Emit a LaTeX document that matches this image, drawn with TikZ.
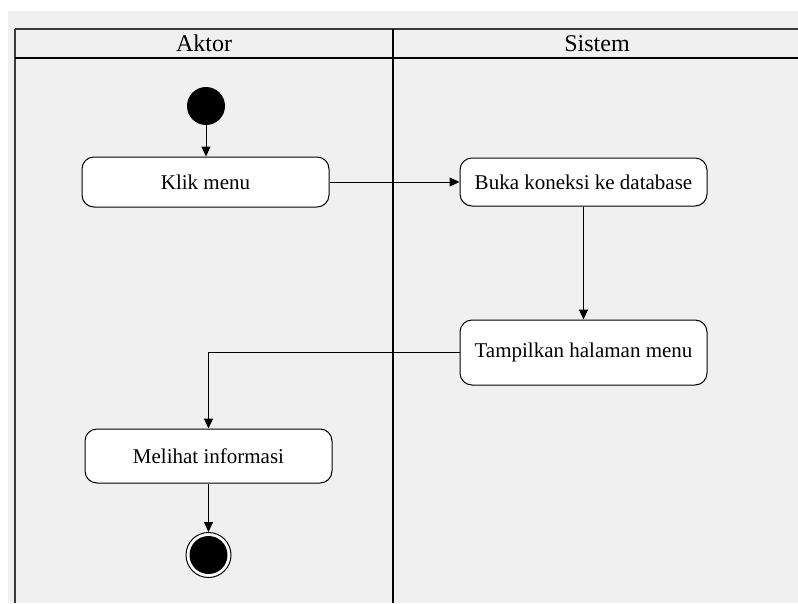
\documentclass[tikz,border=0pt]{standalone}
\usepackage{fontspec}
\setmainfont{Liberation Serif}
\usetikzlibrary{arrows.meta}
\definecolor{canvas}{HTML}{F0F0F0}
\definecolor{edge}{HTML}{3A3A3A}
\begin{document}
\begin{tikzpicture}[x=1pt,y=-1pt,
  action/.style={draw=black, line width=1pt, fill=white, rounded corners=12pt,
    minimum width=247pt, minimum height=50pt, inner sep=0pt,
    font=\fontsize{21}{25}\selectfont},
  flow/.style={draw=black, line width=1pt, -{Triangle[length=10pt,width=9pt]}},
  lane/.style={draw=black, line width=1.3pt},
  frame/.style={draw=edge, line width=1.5pt},
  header/.style={inner sep=0pt, font=\fontsize{24}{28}\selectfont}
]
% page and swimlane canvas
\useasboundingbox (0,0) rectangle (798,603);
\fill[white] (0,0) rectangle (798,603);
\fill[canvas] (8,11) rectangle (798,603);

% swimlane grid
\draw[frame] (15,29) -- (798,29);
\draw[frame] (15,29) -- (15,603);
\draw[lane] (15,58) -- (798,58);
\draw[lane] (393,29) -- (393,603);

\node[header] (aktor) at (204,43.5) {Aktor};
\node[header] (sistem) at (597,43.5) {Sistem};

% activities
\node[circle, fill=black, minimum size=38pt, inner sep=0pt] (start) at (206,106) {};
\node[action] (klik) at (205.5,182) {Klik menu};
\node[action, minimum height=48pt] (buka) at (583.5,182) {Buka koneksi ke database};
\node[action, minimum height=65pt] (tampil) at (583.5,352.5) {Tampilkan halaman menu};
\node[action, minimum height=54pt] (lihat) at (208.5,456) {Melihat informasi};
\node[circle, draw=black, line width=1pt, fill=white, minimum size=45pt, inner sep=0pt] (end) at (208.5,555) {};
\fill[black] (end.center) circle[radius=19pt];

% control flow
\draw[flow] (start.south) -- (start.south |- klik.north);
\draw[flow] (klik) -- (buka);
\draw[flow] (buka) -- (tampil);
\draw[flow] (tampil.west) -| (lihat.north);
\draw[flow] (lihat) -- (end);
\end{tikzpicture}
\end{document}
